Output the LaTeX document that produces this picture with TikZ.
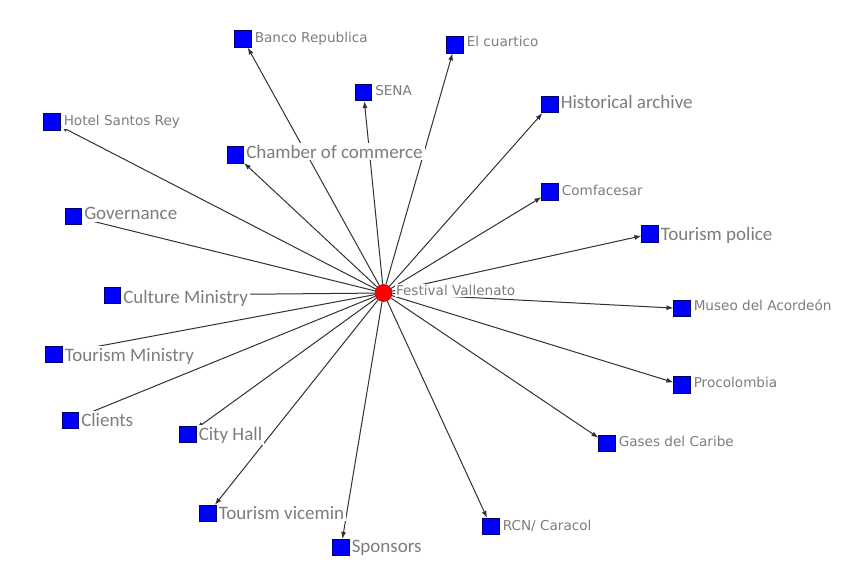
\documentclass[tikz,border=0pt]{standalone}
\usepackage{fontspec}
\usetikzlibrary{arrows.meta}
\newfontfamily\tahomaf{DejaVu Sans}
\newfontfamily\calibf{Carlito}
\definecolor{sqblue}{RGB}{0,0,255}
\definecolor{sqborder}{RGB}{0,0,110}
\definecolor{hubred}{RGB}{255,0,0}
\definecolor{hubborder}{RGB}{170,0,0}
\definecolor{edgecol}{RGB}{50,50,50}
\definecolor{labgray}{RGB}{125,125,125}
\begin{document}
\begin{tikzpicture}[x=1pt,y=-1pt,
 actor/.style={draw=sqborder,fill=sqblue,minimum size=16.5pt,inner sep=0pt,line width=0.6pt},
 hub/.style={circle,draw=hubborder,fill=hubred,minimum size=17pt,inner sep=0pt,line width=0.6pt},
 tlab/.style={anchor=base west,text=labgray,fill=white,inner sep=1.5pt,font=\tahomaf\fontsize{13.6}{16}\selectfont},
 clab/.style={anchor=base west,text=labgray,fill=white,inner sep=2pt,font=\calibf\fontsize{19}{22}\selectfont},
 link/.style={draw=edgecol,line width=1pt,-{Latex[length=7pt,width=5pt]}}
]
\useasboundingbox[fill=white] (0,0) rectangle (848,576);
% nodes
\node[hub] (fv) at (383.5,293) {};
\node[actor] (banco) at (243,39) {};
\node[actor] (cuartico) at (455,44.7) {};
\node[actor] (sena) at (363.5,92.5) {};
\node[actor] (hist) at (550,104.5) {};
\node[actor] (hotel) at (52,122) {};
\node[actor] (chamber) at (235.5,155) {};
\node[actor] (comfa) at (550,192) {};
\node[actor] (gov) at (73.5,216.5) {};
\node[actor] (tpolice) at (650,234) {};
\node[actor] (culture) at (112.5,295.5) {};
\node[actor] (museo) at (682,308.5) {};
\node[actor] (tmin) at (54,354.5) {};
\node[actor] (proco) at (682,385) {};
\node[actor] (clients) at (70.5,420.5) {};
\node[actor] (city) at (188,434.5) {};
\node[actor] (gases) at (607,443.5) {};
\node[actor] (vicemin) at (208,513.5) {};
\node[actor] (rcn) at (491,526.5) {};
\node[actor] (spons) at (341,547.5) {};
% edges
\foreach \t in {banco,cuartico,sena,hist,hotel,chamber,comfa,gov,tpolice,culture,museo,tmin,proco,clients,city,gases,vicemin,rcn,spons}
  \draw[link] (fv) -- (\t);
% labels
\node[tlab] (lfv) at ([xshift=2pt,yshift=-2.5pt]fv.east) {Festival Vallenato};
\node[tlab] (lbanco) at ([xshift=1.5pt,yshift=-3pt]banco.east) {Banco Republica};
\node[tlab] (lcuartico) at ([xshift=1.5pt,yshift=-2pt]cuartico.east) {El cuartico};
\node[tlab] (lsena) at ([xshift=1.5pt,yshift=-2.5pt]sena.east) {SENA};
\node[clab] (lhist) at ([yshift=-4pt]hist.east) {Historical archive};
\node[tlab] (lhotel) at ([xshift=1.5pt,yshift=-3pt]hotel.east) {Hotel Santos Rey};
\node[clab] (lchamber) at ([yshift=-3pt]chamber.east) {Chamber of commerce};
\node[tlab] (lcomfa) at ([xshift=1.5pt,yshift=-3pt]comfa.east) {Comfacesar};
\node[clab] (lgov) at ([yshift=-3pt]gov.east) {Governance};
\node[clab] (ltpolice) at ([yshift=-6pt]tpolice.east) {Tourism police};
\node[clab] (lculture) at ([yshift=-8pt]culture.east) {Culture Ministry};
\node[tlab] (lmuseo) at ([xshift=1.5pt,yshift=-2pt]museo.east) {Museo del Acordeón};
\node[clab] (ltmin) at ([yshift=-7pt]tmin.east) {Tourism Ministry};
\node[tlab] (lproco) at ([xshift=1.5pt,yshift=-2pt]proco.east) {Procolombia};
\node[clab] (lclients) at ([yshift=-6pt]clients.east) {Clients};
\node[clab] (lcity) at ([yshift=-5.5pt]city.east) {City Hall};
\node[tlab] (lgases) at ([xshift=1.5pt,yshift=-3pt]gases.east) {Gases del Caribe};
\node[clab] (lvicemin) at ([yshift=-5.5pt]vicemin.east) {Tourism vicemin};
\node[tlab] (lrcn) at ([xshift=1.5pt,yshift=-3.5pt]rcn.east) {RCN/ Caracol};
\node[clab] (lspons) at ([yshift=-5pt]spons.east) {Sponsors};
\end{tikzpicture}
\end{document}
